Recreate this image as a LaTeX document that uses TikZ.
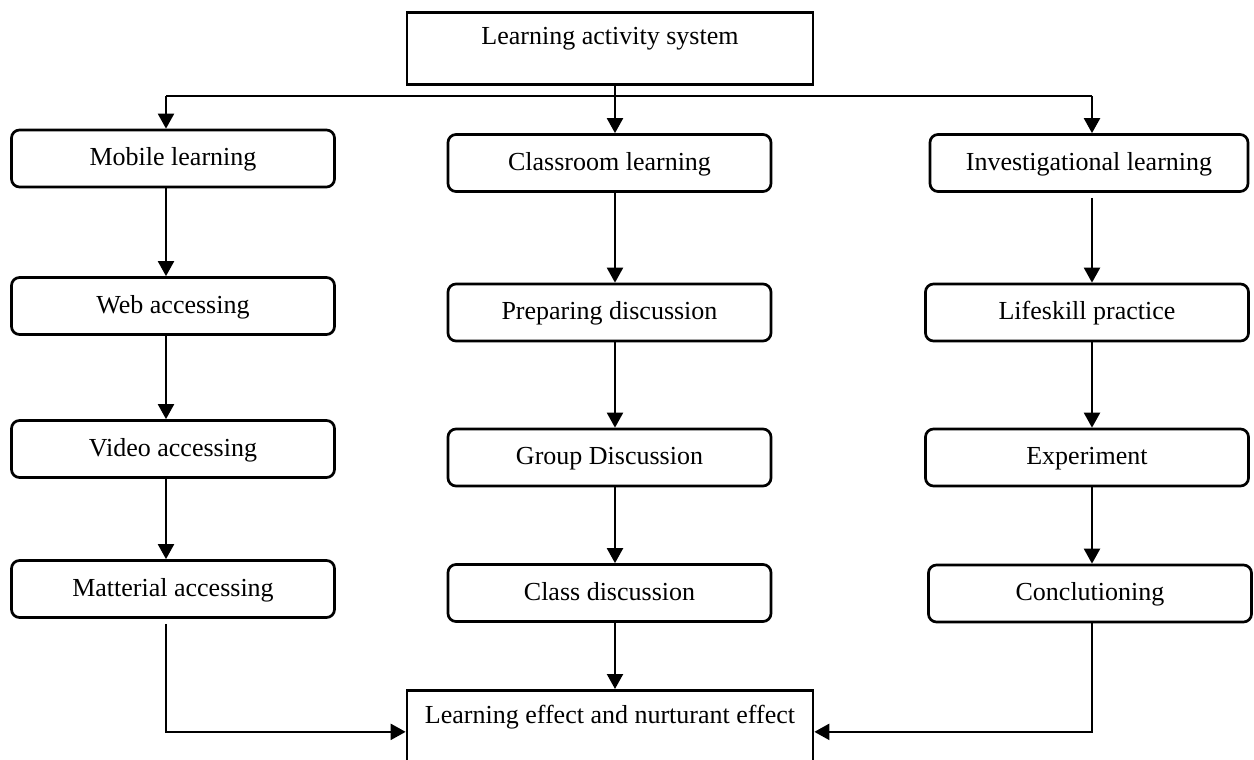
\documentclass[tikz,border=0pt]{standalone}
\usepackage{fontspec}
\setmainfont{Liberation Serif}
\usetikzlibrary{arrows.meta}
\tikzset{
    stage/.style={draw,line width=2.7pt,rounded corners=8pt,minimum width=323pt,minimum height=57pt,inner sep=0pt,text height=19pt,text depth=5pt,font=\fontsize{26}{30}\selectfont},
    topbox/.style={draw,line width=2.7pt,minimum width=406pt,inner sep=0pt,anchor=north,font=\fontsize{26}{30}\selectfont},
    conn/.style={line width=2.2pt},
    arr/.style={line width=2.2pt,-{Triangle[length=15pt,width=16pt]}},
}

\begin{document}
\begin{tikzpicture}[x=1pt,y=-1pt]
\useasboundingbox (0,0) rectangle (1254,760);
\coordinate (cL) at (166,0);
\coordinate (cM) at (615,0);
\coordinate (cR) at (1092,0);
\coordinate (trunk) at (615,96);
\node[topbox,text height=32pt,text depth=40pt] (system) at (610,11) {Learning activity system};
% left column
\node[stage] (mobile) at (173,158.5) {Mobile learning};
\node[stage] (web) at (173,306) {Web accessing};
\node[stage] (video) at (173,449) {Video accessing};
\node[stage] (material) at (173,589) {Matterial accessing};
% middle column
\node[stage] (classroom) at (609.5,163) {Classroom learning};
\node[stage] (preparing) at (609.5,312.5) {Preparing discussion};
\node[stage] (group) at (609.5,457.5) {Group Discussion};
\node[stage] (classdisc) at (609.5,593) {Class discussion};
% right column
\node[stage,minimum width=318pt] (investig) at (1089,163) {Investigational learning};
\node[stage] (lifeskill) at (1087,312.5) {Lifeskill practice};
\node[stage] (experiment) at (1087,457.5) {Experiment};
\node[stage] (conclude) at (1090,593.5) {Conclutioning};
\node[topbox,text height=33pt,text depth=50pt] (effect) at (610,689) {Learning effect and nurturant effect};
\draw[conn] (trunk -| cL) -- (trunk -| cR);
\draw[arr] (system.south -| cM) -- (classroom.north -| cM);
\draw[arr] (trunk -| cL) -- (mobile.north -| cL);
\draw[arr] (trunk -| cR) -- (investig.north -| cR);
\draw[arr] (mobile.south -| cL) -- (web.north -| cL);
\draw[arr] (web.south -| cL) -- (video.north -| cL);
\draw[arr] (video.south -| cL) -- (material.north -| cL);
\draw[arr] (classroom.south -| cM) -- (preparing.north -| cM);
\draw[arr] (preparing.south -| cM) -- (group.north -| cM);
\draw[arr] (group.south -| cM) -- (classdisc.north -| cM);
\draw[arr] ([yshift=-5pt]investig.south -| cR) -- (lifeskill.north -| cR);
\draw[arr] (lifeskill.south -| cR) -- (experiment.north -| cR);
\draw[arr] (experiment.south -| cR) -- (conclude.north -| cR);
\draw[arr] ([yshift=-5pt]material.south -| cL) |- (effect.west);
\draw[arr] (classdisc.south -| cM) -- (effect.north -| cM);
\draw[arr] (conclude.south -| cR) |- (effect.east);
\end{tikzpicture}
\end{document}
